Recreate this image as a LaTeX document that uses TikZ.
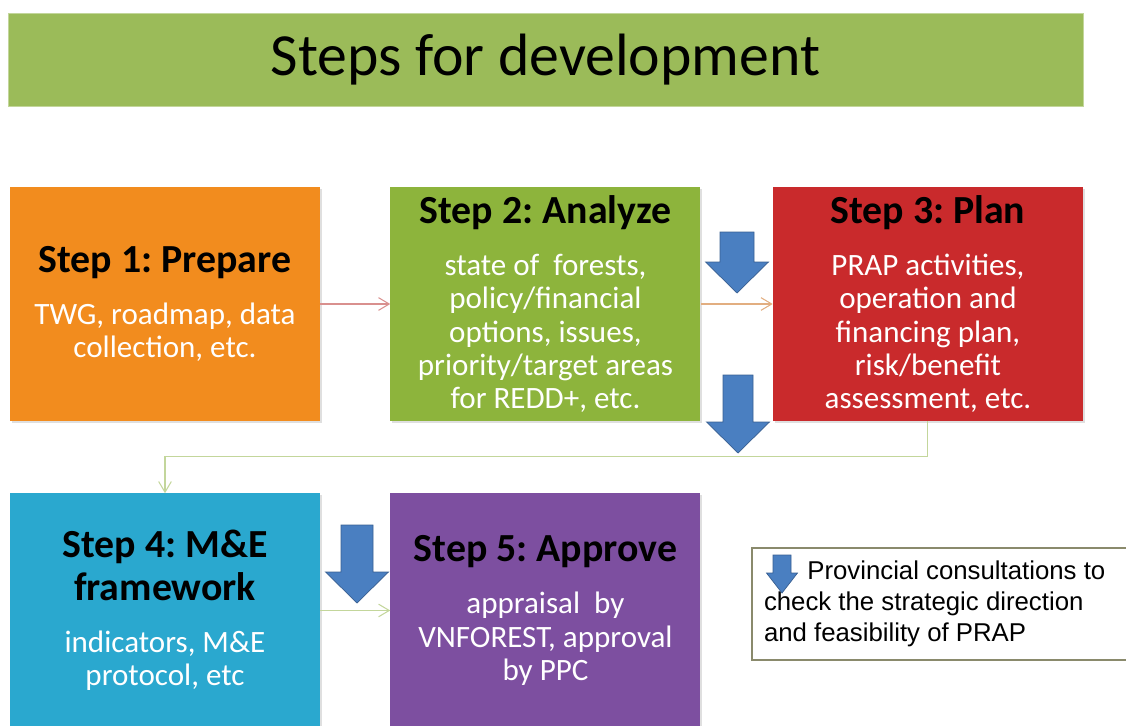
\documentclass[tikz,border=0pt]{standalone}
\usepackage{fontspec}
\setmainfont{Carlito}
\newfontfamily\arialfont{Liberation Sans}
\usepackage{tikz}
\usetikzlibrary{arrows.meta,positioning,shadows}
\frenchspacing

\definecolor{bargreen}{HTML}{9BBB59}
\definecolor{orangebox}{HTML}{F28C1E}
\definecolor{greenbox}{HTML}{8DB43C}
\definecolor{redbox}{HTML}{C92A2C}
\definecolor{cyanbox}{HTML}{2AA8CF}
\definecolor{purplebox}{HTML}{7D4FA0}
\definecolor{arrowblue}{HTML}{4A7FC1}
\definecolor{lnred}{HTML}{D9908E}
\definecolor{lntan}{HTML}{E2AE80}
\definecolor{lnolive}{HTML}{C3D69B}
\definecolor{legendline}{HTML}{8A8A6C}

\newcommand{\stitle}{\fontsize{34}{36}\bfseries\selectfont\color{black}}
\newcommand{\sbody}{\fontsize{26.5}{28.5}\mdseries\selectfont\color{white}}

% blue block arrow: centre x, top, head start, tip, half head, half shaft
\newcommand{\bluedown}[6]{%
  \draw[arrowblue!75!black, fill=arrowblue, line width=0.6pt]
    ({#1-#6},#2) -- ({#1+#6},#2) -- ({#1+#6},#3) -- ({#1+#5},#3)
    -- (#1,#4) -- ({#1-#5},#3) -- ({#1-#6},#3) -- cycle;}

\tikzset{
  stepbox/.style={rectangle, minimum width=93mm, minimum height=70.2mm,
    text width=88mm, align=flush center, inner sep=0pt, text=white, font=\sbody,
    drop shadow={shadow xshift=1.5pt, shadow yshift=-1.5pt, opacity=0.25}},
  link/.style={line width=0.9pt, -{Straight Barb[length=3.2mm, width=3.8mm]}}
}

\begin{document}
\begin{tikzpicture}[x=0.3mm, y=-0.3mm, node distance=21.6mm and 21mm]
	\useasboundingbox (0,0) rectangle (1126,726);
	\node[fill=bargreen, draw=bargreen!60!white, minimum width=322.5mm, minimum height=27.9mm,
	  font=\fontsize{51}{56}\selectfont] (0) at (545.5,59.5) {Steps for development};

	\node[stepbox, fill=orangebox] (1) at (165,304)
	  {\stitle Step 1: Prepare\\[16pt]\sbody TWG, roadmap, data\\collection, etc.};
	\node[stepbox, fill=greenbox, right=of 1] (2)
	  {\stitle Step 2: Analyze\\[16pt]\sbody state of~ forests,\\policy/financial\\options, issues,\\priority/target areas\\for REDD+, etc.};
	\node[stepbox, fill=redbox, right=21.6mm of 2] (3)
	  {\stitle Step 3: Plan\\[16pt]\sbody PRAP activities,\\operation and\\financing plan,\\risk/benefit\\assessment, etc.};
	\node[stepbox, fill=cyanbox, below=of 1] (4)
	  {\stitle Step 4: M\&E\\framework\\[16pt]\sbody indicators, M\&E\\protocol, etc};
	\node[stepbox, fill=purplebox, right=of 4] (5)
	  {\stitle Step 5: Approve\\[16pt]\sbody appraisal~ by\\VNFOREST, approval\\by PPC};

	\draw[link, lnred] (1) -- (2);
	\draw[link, lntan] (2) -- (3);
	\draw[link, lnolive] (3.south) -- ++(0,35) -| (4.north);
	\draw[link, lnolive] (4) -- (5);

	\bluedown{737}{232}{262}{293}{31.5}{17}
	\bluedown{738}{375}{422}{453}{31.5}{15}
	\bluedown{357}{525}{572}{603}{31.5}{16}

	\node[draw=legendline, line width=1.3pt, fill=white, minimum width=112.8mm, minimum height=33.6mm,
	  text width=105.6mm, align=flush left, inner sep=0pt,
	  font=\arialfont\fontsize{22}{26.5}\selectfont] (6) at (940,604)
	  {\hspace*{13mm}Provincial consultations to\\check the strategic direction\\and feasibility of PRAP};
	\bluedown{782}{555}{573}{593}{15.5}{9}
\end{tikzpicture}
\end{document}
